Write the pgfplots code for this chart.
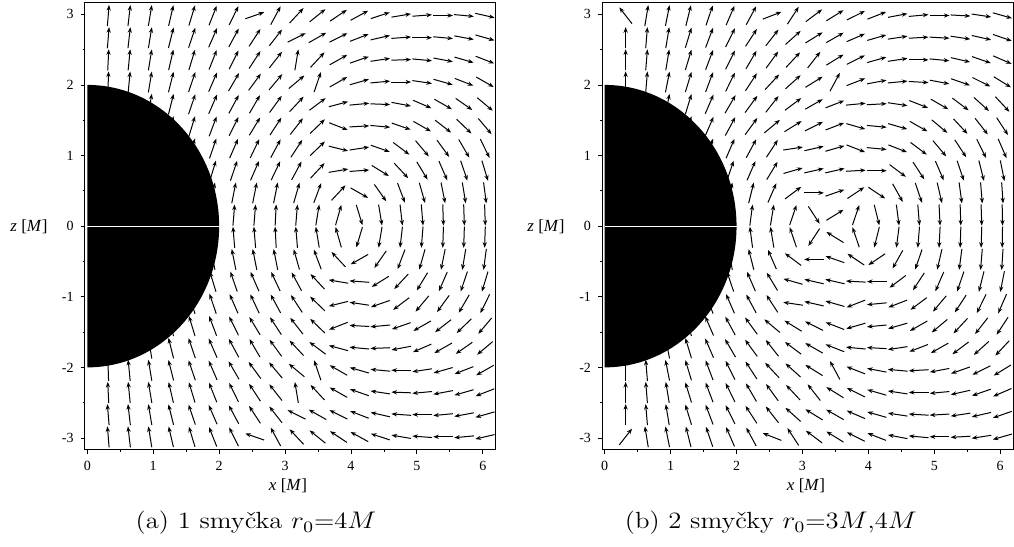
\documentclass[border=0pt]{standalone}
\usepackage{fontspec}
\usepackage{pgfplots}
\usepackage{pgfplotstable}
\pgfplotsset{compat=1.18}
\usetikzlibrary{arrows.meta}
\newfontfamily\tnr{Liberation Serif}

% k = column (x = 0.3175 k), j = row (z = -2.983 + 0.314 j), a = arrow angle in degrees
\pgfplotstableread[row sep=\\]{
k j a\\
1 19 85\\ 2 19 83\\ 3 19 80\\ 4 19 76\\ 5 19 72\\ 6 19 67\\ 7 19 62\\ 8 19 18\\ 9 19 60\\ 10 19 45\\ 11 19 37\\ 12 19 32\\ 13 19 27\\ 14 19 17\\ 15 19 9\\ 16 19 4\\ 17 19 0\\ 18 19 -5\\ 19 19 -12\\
1 18 85\\ 2 18 83\\ 3 18 80\\ 4 18 75\\ 5 18 70\\ 6 18 65\\ 7 18 60\\ 8 18 55\\ 9 18 50\\ 10 18 25\\ 11 18 28\\ 12 18 25\\ 13 18 20\\ 14 18 12\\ 15 18 4\\ 16 18 0\\ 17 18 -5\\ 18 18 -10\\ 19 18 -15\\
1 17 87\\ 2 17 84\\ 3 17 80\\ 4 17 76\\ 5 17 72\\ 6 17 67\\ 7 17 62\\ 8 17 55\\ 9 17 50\\ 10 17 80\\ 11 17 45\\ 12 17 28\\ 13 17 18\\ 14 17 8\\ 15 17 2\\ 16 17 -5\\ 17 17 -10\\ 18 17 -15\\ 19 17 -20\\
1 16 88\\ 2 16 84\\ 3 16 80\\ 4 16 75\\ 5 16 70\\ 6 16 65\\ 7 16 58\\ 8 16 52\\ 9 16 48\\ 10 16 38\\ 11 16 70\\ 12 16 28\\ 13 16 15\\ 14 16 5\\ 15 16 0\\ 16 16 -8\\ 17 16 -15\\ 18 16 -20\\ 19 16 -28\\
1 15 86\\ 2 15 83\\ 3 15 80\\ 4 15 75\\ 5 15 70\\ 6 15 65\\ 7 15 60\\ 8 15 58\\ 9 15 52\\ 10 15 45\\ 11 15 35\\ 12 15 14\\ 13 15 5\\ 14 15 -2\\ 15 15 -10\\ 16 15 -22\\ 17 15 -28\\ 18 15 -33\\ 19 15 -38\\
1 14 86\\ 2 14 83\\ 3 14 78\\ 4 14 75\\ 5 14 72\\ 6 14 68\\ 7 14 62\\ 8 14 57\\ 9 14 55\\ 10 14 50\\ 11 14 42\\ 12 14 -20\\ 13 14 3\\ 14 14 -5\\ 15 14 -18\\ 16 14 -28\\ 17 14 -36\\ 18 14 -42\\ 19 14 -48\\
1 13 86\\ 2 13 83\\ 3 13 78\\ 4 13 75\\ 5 13 72\\ 6 13 70\\ 7 13 65\\ 8 13 63\\ 9 13 60\\ 10 13 55\\ 11 13 42\\ 12 13 -13\\ 13 13 8\\ 14 13 -18\\ 15 13 -35\\ 16 13 -48\\ 17 13 -52\\ 18 13 -58\\ 19 13 -62\\
1 12 86\\ 2 12 83\\ 3 12 78\\ 4 12 75\\ 5 12 72\\ 6 12 72\\ 7 12 70\\ 8 12 65\\ 9 12 63\\ 10 12 60\\ 11 12 45\\ 12 12 9\\ 13 12 4\\ 14 12 -30\\ 15 12 -45\\ 16 12 -57\\ 17 12 -65\\ 18 12 -70\\ 19 12 -72\\
1 11 88\\ 2 11 85\\ 3 11 82\\ 4 11 80\\ 5 11 78\\ 6 11 78\\ 7 11 78\\ 8 11 78\\ 9 11 78\\ 10 11 73\\ 11 11 68\\ 12 11 45\\ 13 11 -28\\ 14 11 -53\\ 15 11 -68\\ 16 11 -73\\ 17 11 -78\\ 18 11 -80\\ 19 11 -82\\
1 10 89\\ 2 10 88\\ 3 10 87\\ 4 10 86\\ 5 10 86\\ 6 10 85\\ 7 10 85\\ 8 10 85\\ 9 10 87\\ 10 10 85\\ 11 10 80\\ 12 10 73\\ 13 10 -72\\ 14 10 -80\\ 15 10 -83\\ 16 10 -85\\ 17 10 -88\\ 18 10 -88\\ 19 10 -88\\
1 9 91\\ 2 9 92\\ 3 9 93\\ 4 9 94\\ 5 9 94\\ 6 9 95\\ 7 9 95\\ 8 9 95\\ 9 9 93\\ 10 9 95\\ 11 9 100\\ 12 9 107\\ 13 9 252\\ 14 9 260\\ 15 9 263\\ 16 9 265\\ 17 9 268\\ 18 9 268\\ 19 9 268\\
1 8 92\\ 2 8 95\\ 3 8 98\\ 4 8 100\\ 5 8 102\\ 6 8 102\\ 7 8 102\\ 8 8 102\\ 9 8 102\\ 10 8 107\\ 11 8 112\\ 12 8 135\\ 13 8 208\\ 14 8 233\\ 15 8 248\\ 16 8 253\\ 17 8 258\\ 18 8 260\\ 19 8 262\\
1 7 94\\ 2 7 97\\ 3 7 102\\ 4 7 105\\ 5 7 108\\ 6 7 108\\ 7 7 110\\ 8 7 115\\ 9 7 117\\ 10 7 120\\ 11 7 135\\ 12 7 171\\ 13 7 176\\ 14 7 210\\ 15 7 225\\ 16 7 237\\ 17 7 245\\ 18 7 250\\ 19 7 252\\
1 6 94\\ 2 6 97\\ 3 6 102\\ 4 6 105\\ 5 6 108\\ 6 6 110\\ 7 6 115\\ 8 6 117\\ 9 6 120\\ 10 6 125\\ 11 6 138\\ 12 6 193\\ 13 6 172\\ 14 6 198\\ 15 6 215\\ 16 6 228\\ 17 6 232\\ 18 6 238\\ 19 6 242\\
1 5 94\\ 2 5 97\\ 3 5 102\\ 4 5 105\\ 5 5 108\\ 6 5 112\\ 7 5 118\\ 8 5 123\\ 9 5 125\\ 10 5 130\\ 11 5 138\\ 12 5 200\\ 13 5 177\\ 14 5 185\\ 15 5 198\\ 16 5 208\\ 17 5 216\\ 18 5 222\\ 19 5 228\\
1 4 94\\ 2 4 97\\ 3 4 100\\ 4 4 105\\ 5 4 110\\ 6 4 115\\ 7 4 120\\ 8 4 122\\ 9 4 128\\ 10 4 135\\ 11 4 145\\ 12 4 166\\ 13 4 175\\ 14 4 182\\ 15 4 190\\ 16 4 202\\ 17 4 208\\ 18 4 213\\ 19 4 218\\
1 3 92\\ 2 3 96\\ 3 3 100\\ 4 3 105\\ 5 3 110\\ 6 3 115\\ 7 3 122\\ 8 3 128\\ 9 3 132\\ 10 3 142\\ 11 3 110\\ 12 3 152\\ 13 3 165\\ 14 3 175\\ 15 3 180\\ 16 3 188\\ 17 3 195\\ 18 3 200\\ 19 3 208\\
1 2 93\\ 2 2 96\\ 3 2 100\\ 4 2 104\\ 5 2 108\\ 6 2 113\\ 7 2 118\\ 8 2 125\\ 9 2 130\\ 10 2 100\\ 11 2 135\\ 12 2 152\\ 13 2 162\\ 14 2 172\\ 15 2 178\\ 16 2 185\\ 17 2 190\\ 18 2 195\\ 19 2 200\\
1 1 95\\ 2 1 97\\ 3 1 100\\ 4 1 105\\ 5 1 110\\ 6 1 115\\ 7 1 120\\ 8 1 125\\ 9 1 130\\ 10 1 155\\ 11 1 152\\ 12 1 155\\ 13 1 160\\ 14 1 168\\ 15 1 176\\ 16 1 180\\ 17 1 185\\ 18 1 190\\ 19 1 195\\
1 0 95\\ 2 0 97\\ 3 0 100\\ 4 0 104\\ 5 0 108\\ 6 0 113\\ 7 0 118\\ 8 0 162\\ 9 0 120\\ 10 0 135\\ 11 0 143\\ 12 0 148\\ 13 0 153\\ 14 0 163\\ 15 0 171\\ 16 0 176\\ 17 0 180\\ 18 0 185\\ 19 0 192\\
}\tabA

\pgfplotstableread[row sep=\\]{
k j a\\
1 19 130\\ 2 19 80\\ 3 19 78\\ 4 19 75\\ 5 19 70\\ 6 19 65\\ 7 19 60\\ 8 19 20\\ 9 19 55\\ 10 19 35\\ 11 19 30\\ 12 19 25\\ 13 19 20\\ 14 19 10\\ 15 19 5\\ 16 19 0\\ 17 19 -3\\ 18 19 -8\\ 19 19 -15\\
1 18 90\\ 2 18 85\\ 3 18 80\\ 4 18 72\\ 5 18 68\\ 6 18 62\\ 7 18 55\\ 8 18 50\\ 9 18 40\\ 10 18 30\\ 11 18 28\\ 12 18 22\\ 13 18 15\\ 14 18 8\\ 15 18 3\\ 16 18 -3\\ 17 18 -8\\ 18 18 -12\\ 19 18 -18\\
1 17 90\\ 2 17 85\\ 3 17 80\\ 4 17 72\\ 5 17 68\\ 6 17 62\\ 7 17 58\\ 8 17 52\\ 9 17 45\\ 10 17 50\\ 11 17 30\\ 12 17 25\\ 13 17 15\\ 14 17 8\\ 15 17 0\\ 16 17 -5\\ 17 17 -12\\ 18 17 -18\\ 19 17 -22\\
1 16 90\\ 2 16 85\\ 3 16 78\\ 4 16 72\\ 5 16 68\\ 6 16 62\\ 7 16 55\\ 8 16 45\\ 9 16 40\\ 10 16 30\\ 11 16 60\\ 12 16 20\\ 13 16 10\\ 14 16 5\\ 15 16 -3\\ 16 16 -10\\ 17 16 -18\\ 18 16 -25\\ 19 16 -30\\
1 15 88\\ 2 15 84\\ 3 15 78\\ 4 15 72\\ 5 15 65\\ 6 15 58\\ 7 15 52\\ 8 15 50\\ 9 15 35\\ 10 15 28\\ 11 15 20\\ 12 15 5\\ 13 15 3\\ 14 15 -8\\ 15 15 -20\\ 16 15 -28\\ 17 15 -35\\ 18 15 -40\\ 19 15 -45\\
1 14 88\\ 2 14 84\\ 3 14 78\\ 4 14 72\\ 5 14 65\\ 6 14 60\\ 7 14 52\\ 8 14 38\\ 9 14 30\\ 10 14 25\\ 11 14 20\\ 12 14 -15\\ 13 14 -5\\ 14 14 -15\\ 15 14 -28\\ 16 14 -38\\ 17 14 -45\\ 18 14 -50\\ 19 14 -55\\
1 13 88\\ 2 13 84\\ 3 13 78\\ 4 13 72\\ 5 13 68\\ 6 13 65\\ 7 13 60\\ 8 13 55\\ 9 13 8\\ 10 13 12\\ 11 13 15\\ 12 13 -20\\ 13 13 -5\\ 14 13 -20\\ 15 13 -35\\ 16 13 -48\\ 17 13 -55\\ 18 13 -62\\ 19 13 -65\\
1 12 88\\ 2 12 84\\ 3 12 78\\ 4 12 75\\ 5 12 70\\ 6 12 70\\ 7 12 65\\ 8 12 57\\ 9 12 15\\ 10 12 12\\ 11 12 12\\ 12 12 3\\ 13 12 0\\ 14 12 -35\\ 15 12 -55\\ 16 12 -65\\ 17 12 -70\\ 18 12 -75\\ 19 12 -78\\
1 11 88\\ 2 11 85\\ 3 11 82\\ 4 11 80\\ 5 11 78\\ 6 11 78\\ 7 11 75\\ 8 11 65\\ 9 11 35\\ 10 11 0\\ 11 11 18\\ 12 11 32\\ 13 11 -32\\ 14 11 -59\\ 15 11 -70\\ 16 11 -76\\ 17 11 -82\\ 18 11 -85\\ 19 11 -86\\
1 10 89\\ 2 10 88\\ 3 10 87\\ 4 10 86\\ 5 10 85\\ 6 10 84\\ 7 10 82\\ 8 10 80\\ 9 10 70\\ 10 10 -55\\ 11 10 30\\ 12 10 70\\ 13 10 -75\\ 14 10 -82\\ 15 10 -85\\ 16 10 -87\\ 17 10 -88\\ 18 10 -88\\ 19 10 -89\\
1 9 91\\ 2 9 92\\ 3 9 93\\ 4 9 94\\ 5 9 95\\ 6 9 96\\ 7 9 98\\ 8 9 100\\ 9 9 110\\ 10 9 235\\ 11 9 150\\ 12 9 110\\ 13 9 255\\ 14 9 262\\ 15 9 265\\ 16 9 267\\ 17 9 268\\ 18 9 268\\ 19 9 269\\
1 8 92\\ 2 8 95\\ 3 8 98\\ 4 8 100\\ 5 8 102\\ 6 8 102\\ 7 8 105\\ 8 8 115\\ 9 8 145\\ 10 8 180\\ 11 8 162\\ 12 8 148\\ 13 8 212\\ 14 8 239\\ 15 8 250\\ 16 8 256\\ 17 8 262\\ 18 8 265\\ 19 8 266\\
1 7 92\\ 2 7 96\\ 3 7 102\\ 4 7 105\\ 5 7 110\\ 6 7 110\\ 7 7 115\\ 8 7 123\\ 9 7 165\\ 10 7 168\\ 11 7 168\\ 12 7 177\\ 13 7 180\\ 14 7 215\\ 15 7 235\\ 16 7 245\\ 17 7 250\\ 18 7 255\\ 19 7 258\\
1 6 92\\ 2 6 96\\ 3 6 102\\ 4 6 108\\ 5 6 112\\ 6 6 115\\ 7 6 120\\ 8 6 125\\ 9 6 172\\ 10 6 168\\ 11 6 165\\ 12 6 200\\ 13 6 185\\ 14 6 200\\ 15 6 215\\ 16 6 228\\ 17 6 235\\ 18 6 242\\ 19 6 245\\
1 5 92\\ 2 5 96\\ 3 5 102\\ 4 5 108\\ 5 5 115\\ 6 5 120\\ 7 5 128\\ 8 5 142\\ 9 5 150\\ 10 5 155\\ 11 5 160\\ 12 5 195\\ 13 5 185\\ 14 5 195\\ 15 5 208\\ 16 5 218\\ 17 5 225\\ 18 5 230\\ 19 5 235\\
1 4 92\\ 2 4 96\\ 3 4 102\\ 4 4 108\\ 5 4 115\\ 6 4 122\\ 7 4 128\\ 8 4 130\\ 9 4 145\\ 10 4 152\\ 11 4 160\\ 12 4 175\\ 13 4 177\\ 14 4 188\\ 15 4 200\\ 16 4 208\\ 17 4 215\\ 18 4 220\\ 19 4 225\\
1 3 90\\ 2 3 95\\ 3 3 102\\ 4 3 108\\ 5 3 112\\ 6 3 118\\ 7 3 125\\ 8 3 135\\ 9 3 140\\ 10 3 150\\ 11 3 120\\ 12 3 160\\ 13 3 170\\ 14 3 175\\ 15 3 183\\ 16 3 190\\ 17 3 198\\ 18 3 205\\ 19 3 210\\
1 2 90\\ 2 2 95\\ 3 2 100\\ 4 2 108\\ 5 2 112\\ 6 2 118\\ 7 2 122\\ 8 2 128\\ 9 2 135\\ 10 2 130\\ 11 2 150\\ 12 2 155\\ 13 2 165\\ 14 2 172\\ 15 2 180\\ 16 2 185\\ 17 2 192\\ 18 2 198\\ 19 2 202\\
1 1 90\\ 2 1 95\\ 3 1 100\\ 4 1 108\\ 5 1 112\\ 6 1 118\\ 7 1 125\\ 8 1 130\\ 9 1 140\\ 10 1 150\\ 11 1 152\\ 12 1 158\\ 13 1 165\\ 14 1 172\\ 15 1 177\\ 16 1 183\\ 17 1 188\\ 18 1 192\\ 19 1 198\\
1 0 50\\ 2 0 100\\ 3 0 102\\ 4 0 105\\ 5 0 110\\ 6 0 115\\ 7 0 120\\ 8 0 160\\ 9 0 125\\ 10 0 145\\ 11 0 150\\ 12 0 155\\ 13 0 160\\ 14 0 170\\ 15 0 175\\ 16 0 180\\ 17 0 183\\ 18 0 188\\ 19 0 195\\
}\tabB

\pgfplotsset{
  fieldax/.style={
    scale only axis, width=205.5pt, height=223.85pt,
    anchor=south west,
    xmin=-0.035, xmax=6.2, ymin=-3.17, ymax=3.17,
    xtick={0,1,2,3,4,5,6}, ytick={-3,-2,-1,0,1,2,3},
    minor x tick num=1, minor y tick num=1,
    tick align=outside, xtick pos=bottom, ytick pos=left,
    major tick length=2.2pt, minor tick length=1.2pt,
    tick style={black, line width=0.4pt},
    ticklabel style={font=\tnr\fontsize{7}{8}\selectfont},
    /pgf/number format/assume math mode=true,
    axis line style={line width=0.5pt},
  },
  arr/.style={-{Stealth[length=2.8pt,width=2.1pt]}, line width=0.5pt, black,
    quiver={u={0.30*cos(\thisrow{a})}, v={0.30*sin(\thisrow{a})}}},
}

\begin{document}
\begin{tikzpicture}
\useasboundingbox (0,0) rectangle (507pt,273.5pt);
\begin{axis}[fieldax, at={(42.5pt,48.5pt)}]
\addplot[arr] table[x expr={0.3175*\thisrow{k}-0.15*cos(\thisrow{a})}, y expr={-2.983+0.314*\thisrow{j}-0.15*sin(\thisrow{a})}] {\tabA};
\fill[black] (axis cs:0,-2) arc[start angle=-90,end angle=90,radius=2] -- cycle;
\draw[white, line width=0.6pt] (axis cs:0,0) -- (axis cs:2,0);
\end{axis}
\begin{axis}[fieldax, at={(301.2pt,48.5pt)}]
\addplot[arr] table[x expr={0.3175*\thisrow{k}-0.15*cos(\thisrow{a})}, y expr={-2.983+0.314*\thisrow{j}-0.15*sin(\thisrow{a})}] {\tabB};
\fill[black] (axis cs:0,-2) arc[start angle=-90,end angle=90,radius=2] -- cycle;
\draw[white, line width=0.6pt] (axis cs:0,0) -- (axis cs:2,0);
\end{axis}
\node[font=\tnr\fontsize{8.5}{10}\selectfont] at (14.5pt,160.35pt) {\textit{z} [\textit{M}]};
\node[font=\tnr\fontsize{8.5}{10}\selectfont] at (273pt,160.35pt) {\textit{z} [\textit{M}]};
\node[font=\tnr\fontsize{8.5}{10}\selectfont] at (144pt,30.5pt) {\textit{x} [\textit{M}]};
\node[font=\tnr\fontsize{8.5}{10}\selectfont] at (403pt,30.5pt) {\textit{x} [\textit{M}]};
\node[font=\fontsize{11.7}{13}\selectfont, xscale=1.14] at (128pt,12pt) {(a) 1 smyčka $r_0$=4$M$};
\node[font=\fontsize{11.7}{13}\selectfont, xscale=1.14] at (385.4pt,12pt) {(b) 2 smyčky $r_0$=3$M$,4$M$};
\end{tikzpicture}
\end{document}
